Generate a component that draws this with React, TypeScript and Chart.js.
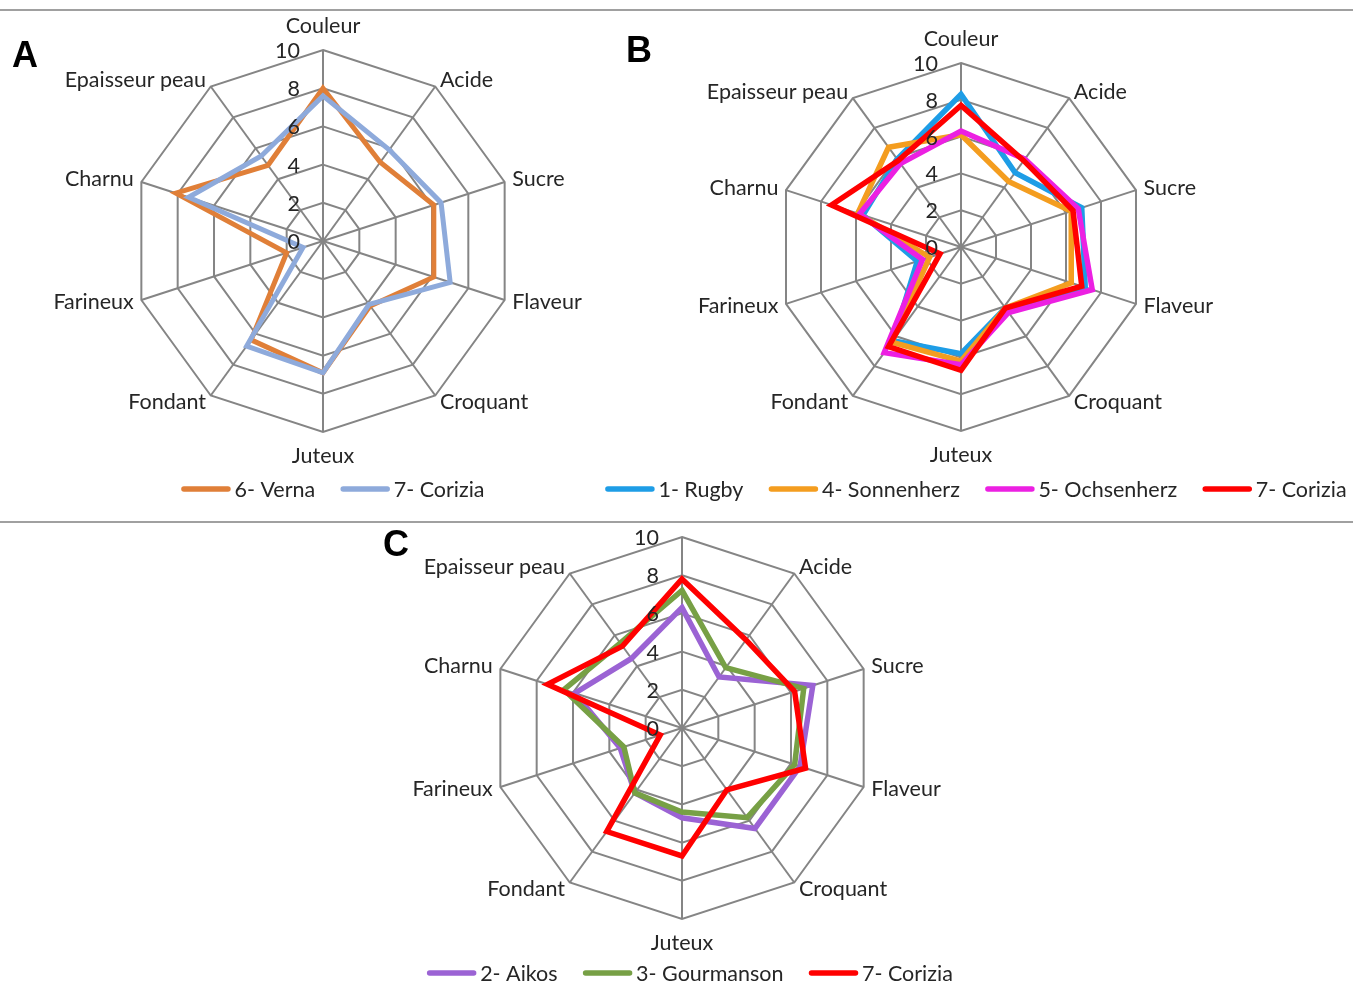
import React, { useEffect, useRef } from "react";
import { Chart, registerables } from "chart.js";

Chart.register(...registerables);

// ---------- data ----------
const categories = [
  "Couleur",
  "Acide",
  "Sucre",
  "Flaveur",
  "Croquant",
  "Juteux",
  "Fondant",
  "Farineux",
  "Charnu",
  "Epaisseur peau",
];
const tickValues = [0, 2, 4, 6, 8, 10];

// Panel A
const vernaA = [8.0, 5.1, 6.1, 6.1, 4.2, 6.9, 6.4, 2.0, 8.1, 4.9];
const coriziaA = [7.6, 5.9, 6.5, 7.0, 4.1, 6.9, 6.8, 1.1, 7.4, 5.5];

// Panel B
const rugbyB = [8.3, 5.0, 6.9, 7.1, 4.1, 5.8, 6.3, 2.5, 5.6, 5.9];
const sonnenherzB = [6.1, 4.4, 6.3, 6.3, 4.1, 6.2, 6.4, 1.8, 5.9, 6.7];
const ochsenherzB = [6.3, 5.9, 6.7, 7.5, 4.4, 6.4, 7.1, 2.2, 5.8, 5.6];
const coriziaB = [7.7, 5.8, 6.4, 6.9, 4.1, 6.7, 6.7, 1.2, 7.4, 5.8];

// Panel C
const aikosC = [6.3, 3.3, 7.2, 6.5, 6.5, 4.7, 4.2, 3.4, 5.9, 4.5];
const gourmansonC = [7.2, 3.9, 6.7, 6.2, 5.8, 4.4, 4.2, 3.2, 6.5, 5.5];
const coriziaC = [7.8, 5.7, 6.2, 6.8, 4.0, 6.7, 6.7, 1.2, 7.4, 5.3];

// ---------- styling ----------
const FONT = "Lato";
const FS = 21.5;
const TEXT = "#262626";
const GRID = "#858585";

type Series = { label: string; data: number[]; color: string };
type Panel = {
  letter: string;
  x: number;
  y: number;
  w: number;
  h: number;
  padding: { left: number; right: number; top: number; bottom: number };
  letterX: number;
  letterY: number;
  legendX: number;
  legendY: number;
  lineWidth: number;
  series: Series[];
};

const panels: Panel[] = [
  {
    letter: "A",
    x: 0,
    y: 12,
    w: 590,
    h: 508,
    padding: { left: 132, right: 76, top: 38, bottom: 88 },
    letterX: 12,
    letterY: 55,
    legendX: 333,
    legendY: 477,
    lineWidth: 5,
    series: [
      { label: "6- Verna", data: vernaA, color: "#e07f38" },
      { label: "7- Corizia", data: coriziaA, color: "#8eaadb" },
    ],
  },
  {
    letter: "B",
    x: 590,
    y: 12,
    w: 763,
    h: 508,
    padding: { left: 187, right: 208, top: 51, bottom: 89 },
    letterX: 36,
    letterY: 50,
    legendX: 386,
    legendY: 477,
    lineWidth: 5.5,
    series: [
      { label: "1- Rugby", data: rugbyB, color: "#1e9de6" },
      { label: "4- Sonnenherz", data: sonnenherzB, color: "#f49d1f" },
      { label: "5- Ochsenherz", data: ochsenherzB, color: "#ec20e2" },
      { label: "7- Corizia", data: coriziaB, color: "#ff0000" },
    ],
  },
  {
    letter: "C",
    x: 360,
    y: 524,
    w: 660,
    h: 478,
    padding: { left: 131, right: 147, top: 13, bottom: 83 },
    letterX: 23,
    letterY: 32,
    legendX: 330,
    legendY: 449,
    lineWidth: 5.5,
    series: [
      { label: "2- Aikos", data: aikosC, color: "#9b63d4" },
      { label: "3- Gourmanson", data: gourmansonC, color: "#77a045" },
      { label: "7- Corizia", data: coriziaC, color: "#ff0000" },
    ],
  },
];

const decorPlugin = {
  id: "decor",
  afterDatasetsDraw(chart: any, _args: any, opts: any) {
    const scale = chart.scales.r;
    const ctx = chart.ctx as CanvasRenderingContext2D;
    ctx.save();
    ctx.font = `${FS}px ${FONT}`;
    ctx.fillStyle = TEXT;

    // radial tick labels (left of the vertical axis)
    ctx.textAlign = "right";
    ctx.textBaseline = "middle";
    tickValues.forEach((v) => {
      const p = scale.getPointPositionForValue(0, v);
      ctx.fillText(String(v), scale.xCenter - 23, p.y + 1);
    });

    // point labels
    (chart.data.labels as string[]).forEach((lab, i) => {
      const deg = Math.round((scale.getIndexAngle(i) * 180) / Math.PI) % 360;
      let align: CanvasTextAlign = "center";
      let dist = scale.drawingArea + 8;
      if (deg === 0 || deg === 180) {
        dist = scale.drawingArea + 24;
      } else {
        align = deg < 180 ? "left" : "right";
      }
      const p = scale.getPointPosition(i, dist);
      ctx.textAlign = align;
      ctx.fillText(lab, p.x, p.y);
    });

    // panel letter
    ctx.font = `bold 36px "Liberation Sans"`;
    ctx.fillStyle = "#000";
    ctx.textAlign = "left";
    ctx.textBaseline = "alphabetic";
    ctx.fillText(opts.letter, opts.letterX, opts.letterY);

    // legend
    ctx.font = `${FS}px ${FONT}`;
    const LINE = 44;
    const GAP = 6.5;
    const SP = 28;
    const items = chart.data.datasets.map((ds: any) => ({
      text: ds.label as string,
      color: ds.borderColor as string,
      w: ctx.measureText(ds.label).width,
    }));
    const total =
      items.reduce((s: number, it: any) => s + LINE + GAP + it.w, 0) +
      SP * (items.length - 1) +
      2.5;
    let x = opts.legendX - total / 2 + 2.5;
    const y = opts.legendY;
    items.forEach((it: any) => {
      ctx.strokeStyle = it.color;
      ctx.lineWidth = 5.5;
      ctx.lineCap = "round";
      ctx.beginPath();
      ctx.moveTo(x, y);
      ctx.lineTo(x + LINE, y);
      ctx.stroke();
      ctx.fillStyle = TEXT;
      ctx.textAlign = "left";
      ctx.textBaseline = "middle";
      ctx.fillText(it.text, x + LINE + GAP, y + 1);
      x += LINE + GAP + it.w + SP;
    });
    ctx.restore();
  },
};

function RadarPanel({ cfg }: { cfg: Panel }) {
  const ref = useRef<HTMLCanvasElement>(null);
  useEffect(() => {
    if (!ref.current) return;
    const n = cfg.series.length;
    const chart = new Chart(ref.current, {
      type: "radar",
      data: {
        labels: categories,
        datasets: cfg.series.map((s, i) => ({
          label: s.label,
          data: s.data,
          borderColor: s.color,
          backgroundColor: s.color,
          borderWidth: cfg.lineWidth,
          pointRadius: 0,
          pointHoverRadius: 0,
          fill: false,
          order: n - i,
        })),
      },
      options: {
        responsive: false,
        animation: false,
        devicePixelRatio: 1,
        layout: { padding: cfg.padding },
        plugins: {
          legend: { display: false },
          tooltip: { enabled: false },
          decor: {
            letter: cfg.letter,
            letterX: cfg.letterX,
            letterY: cfg.letterY,
            legendX: cfg.legendX,
            legendY: cfg.legendY,
          },
        } as any,
        scales: {
          r: {
            min: 0,
            max: 10,
            ticks: { display: false, stepSize: 2 },
            grid: { circular: false, color: GRID, lineWidth: 2 },
            angleLines: { color: GRID, lineWidth: 2 },
            pointLabels: { display: false },
          },
        },
      },
      plugins: [decorPlugin as any],
    });
    return () => chart.destroy();
  }, [cfg]);
  return (
    <canvas
      ref={ref}
      width={cfg.w}
      height={cfg.h}
      style={{ position: "absolute", left: cfg.x, top: cfg.y, width: cfg.w, height: cfg.h }}
    />
  );
}

export default function App() {
  return (
    <div
      style={{
        position: "absolute",
        left: 0,
        top: 0,
        width: 1353,
        height: 1002,
        background: "#fff",
        overflow: "hidden",
      }}
    >
      <div style={{ position: "absolute", left: 0, top: 9, width: 1353, height: 2, background: "#a0a0a0" }} />
      <div style={{ position: "absolute", left: 0, top: 521, width: 1353, height: 2, background: "#a0a0a0" }} />
      {panels.map((p) => (
        <RadarPanel key={p.letter} cfg={p} />
      ))}
    </div>
  );
}
